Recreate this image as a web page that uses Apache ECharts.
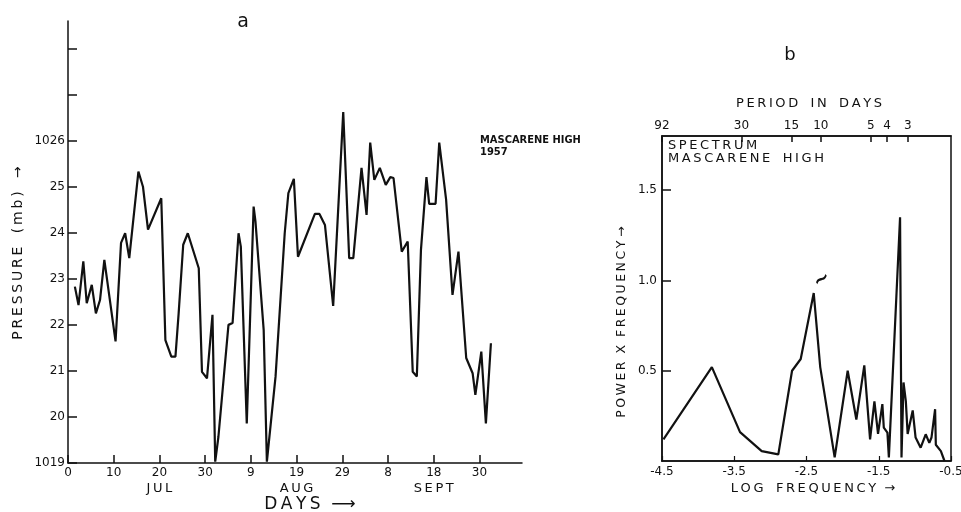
<!DOCTYPE html>
<html>
<head>
<meta charset="utf-8">
<script src="https://cdn.jsdelivr.net/npm/echarts@6/dist/echarts.min.js"></script>
<style>html,body{margin:0;padding:0;background:#fff}#c{width:961px;height:512px}</style>
</head>
<body>
<div id="c"></div>
<script>
// ---- Panel a: daily pressure, Mascarene High 1957 ----
var days = [1.5,2.3,3.35,4.1,5.2,6.1,7,7.95,10.4,11.6,12.5,13.4,15.4,16.4,17.5,20.4,21.3,22.6,23.5,24.2,25.2,26.2,28.6,29.3,30.4,31.6,32.2,32.9,35.1,36,37.3,37.8,39.1,40.6,41,42.8,43.5,45.4,47.4,48.2,49.4,50.3,54,55,56.2,58,60.2,61.5,62.4,64.2,65.3,66.1,67,68.2,69.5,70.5,71.2,73,74.3,75.4,76.3,77.2,78.4,79,80.4,81.2,82.7,84.1,85.4,87.1,88.5,89.1,90.4,91.4,92.5];
var pressure = [1022.83,1022.43,1023.38,1022.47,1022.87,1022.25,1022.54,1023.41,1021.64,1023.78,1023.99,1023.45,1025.33,1025.0,1024.07,1024.75,1021.67,1021.31,1021.31,1022.25,1023.74,1023.99,1023.23,1020.98,1020.84,1022.22,1019.03,1019.57,1022.0,1022.04,1023.99,1023.7,1019.86,1024.57,1024.25,1021.89,1019.03,1020.88,1023.99,1024.86,1025.17,1023.48,1024.41,1024.41,1024.17,1022.41,1026.62,1023.45,1023.45,1025.41,1024.39,1025.96,1025.15,1025.41,1025.04,1025.21,1025.19,1023.59,1023.81,1020.98,1020.88,1023.63,1025.21,1024.63,1024.63,1025.96,1024.72,1022.65,1023.59,1021.28,1020.95,1020.48,1021.42,1019.86,1021.6];
var dayTicks = [0,10,20,30,40,50,60,70,80,90];
var dayTickLabels = ['0','10','20','30','9','19','29','8','18','30'];
var monthLabels = ['','','JUL','','','AUG','','','SEPT',''];
var pressureTicks = [1019,1020,1021,1022,1023,1024,1025,1026,1027,1028];
var pressureTickLabels = ['1019','20','21','22','23','24','25','1026','',''];

// ---- Panel b: spectrum ----
var logFreq = [-4.48,-3.81,-3.42,-3.12,-2.89,-2.70,-2.58,-2.40,-2.31,-2.11,-1.93,-1.81,-1.70,-1.62,-1.56,-1.51,-1.45,-1.43,-1.38,-1.36,-1.205,-1.185,-1.157,-1.125,-1.10,-1.03,-0.99,-0.92,-0.85,-0.80,-0.77,-0.72,-0.71,-0.64,-0.59];
var powerFreq = [0.12,0.52,0.16,0.055,0.037,0.50,0.565,0.93,0.52,0.02,0.50,0.23,0.53,0.12,0.33,0.15,0.315,0.185,0.157,0.02,1.35,0.02,0.435,0.33,0.15,0.28,0.13,0.074,0.148,0.10,0.13,0.287,0.09,0.055,0.0];
var logFreqTicks = [-4.5,-3.5,-2.5,-1.5,-0.5];
var powerTicks = [0.5,1.0,1.5];
var periodDays = [92,30,15,10,5,4,3];

var FONT = 'DejaVu Sans';
var INK = '#111';
var LOGMIN = -4.5, LOGMAX = -0.5;
var periodPos = periodDays.map(function(p){ return Math.max(LOGMIN, -Math.log(p)); });

function pairs(xs, ys){ return xs.map(function(x,i){ return [x, ys[i]]; }); }
function spaced(s){ return s.split('').join('\u2009'); }

var chart = echarts.init(document.getElementById('c'), null, {renderer:'canvas'});
chart.setOption({
  backgroundColor:'#fff',
  animation:false,
  grid:[
    {left:68, top:21, width:454, height:442, outerBoundsMode:'none', containLabel:false},
    {left:662, top:136, width:289, height:325, outerBoundsMode:'none', containLabel:false,
      show:true, borderColor:INK, borderWidth:1.5, backgroundColor:'transparent'}
  ],
  xAxis:[
    {gridIndex:0, type:'value', min:0, max:99.3, position:'bottom',
      axisLine:{show:true, lineStyle:{color:INK, width:1.5}},
      axisTick:{show:true, inside:true, length:8, customValues:dayTicks, lineStyle:{color:INK, width:1.5}},
      axisLabel:{show:true, margin:2, customValues:dayTicks, color:INK, fontFamily:FONT, fontSize:12,
        formatter:function(v){
          var i = dayTicks.indexOf(Math.round(v));
          if (i < 0) return '';
          return '{d|' + dayTickLabels[i] + '}' + (monthLabels[i] ? '\n{m|' + spaced(monthLabels[i]) + '}' : '');
        },
        rich:{
          d:{fontFamily:FONT, fontSize:12, color:INK, lineHeight:16},
          m:{fontFamily:FONT, fontSize:13, color:INK, lineHeight:16}
        }},
      splitLine:{show:false}},
    {gridIndex:1, type:'value', min:LOGMIN, max:LOGMAX, position:'bottom',
      axisLine:{show:true, onZero:false, lineStyle:{color:INK, width:1.5}},
      axisTick:{show:true, inside:true, length:5, customValues:logFreqTicks, lineStyle:{color:INK, width:1.2}},
      axisLabel:{show:true, margin:5, customValues:logFreqTicks, color:INK, fontFamily:FONT, fontSize:12,
        formatter:function(v){ return v.toFixed(1); }},
      splitLine:{show:false}},
    {gridIndex:1, type:'value', min:LOGMIN, max:LOGMAX, position:'top',
      axisLine:{show:true, onZero:false, lineStyle:{color:INK, width:1.5}},
      axisTick:{show:true, inside:true, length:6, customValues:periodPos, lineStyle:{color:INK, width:1.5}},
      axisLabel:{show:true, margin:4, customValues:periodPos, color:INK, fontFamily:FONT, fontSize:12,
        formatter:function(v){
          for (var i=0;i<periodPos.length;i++){ if (Math.abs(periodPos[i]-v)<1e-6) return String(periodDays[i]); }
          return '';
        }},
      splitLine:{show:false}}
  ],
  yAxis:[
    {gridIndex:0, type:'value', min:1019, max:1028.6,
      axisLine:{show:true, lineStyle:{color:INK, width:1.5}},
      axisTick:{show:true, inside:true, length:9, customValues:pressureTicks, lineStyle:{color:INK, width:1.5}},
      axisLabel:{show:true, margin:3, customValues:pressureTicks, color:INK, fontFamily:FONT, fontSize:12,
        formatter:function(v){ var i = pressureTicks.indexOf(Math.round(v)); return i>=0 ? pressureTickLabels[i] : ''; }},
      splitLine:{show:false}},
    {gridIndex:1, type:'value', min:0, max:1.8,
      axisLine:{show:true, onZero:false, lineStyle:{color:INK, width:1.5}},
      axisTick:{show:true, inside:true, length:9, customValues:powerTicks, lineStyle:{color:INK, width:1.5}},
      axisLabel:{show:true, margin:5, customValues:powerTicks, color:INK, fontFamily:FONT, fontSize:12,
        formatter:function(v){ return v.toFixed(1); }},
      splitLine:{show:false}}
  ],
  series:[
    {type:'line', xAxisIndex:0, yAxisIndex:0, data:pairs(days, pressure), symbol:'none',
      lineStyle:{color:INK, width:2.2}, silent:true},
    {type:'line', xAxisIndex:1, yAxisIndex:1, data:pairs(logFreq, powerFreq), symbol:'none',
      lineStyle:{color:INK, width:2.2}, silent:true}
  ],
  graphic:[
    {type:'text', x:243, y:22, style:{text:'a', fill:INK, font:'19px '+FONT, textAlign:'center', textVerticalAlign:'middle'}},
    {type:'text', x:790, y:55, style:{text:'b', fill:INK, font:'18px '+FONT, textAlign:'center', textVerticalAlign:'middle'}},
    {type:'text', x:480, y:134, style:{text:'MASCARENE HIGH\n1957', fill:INK, font:'bold 11px "DejaVu Sans Condensed"', lineHeight:12, textAlign:'left', textVerticalAlign:'top'}},
    {type:'text', x:18, y:253, rotation:Math.PI/2, style:{text:spaced('PRESSURE') + '   ' + spaced('(mb)') + '   \u2192', fill:INK, font:'14px '+FONT, textAlign:'center', textVerticalAlign:'middle'}},
    {type:'text', x:310, y:505, style:{text:spaced('DAYS') + '  \u27F6', fill:INK, font:'17px '+FONT, textAlign:'center', textVerticalAlign:'middle'}},
    {type:'text', x:809, y:104, style:{text:spaced('PERIOD') + '   ' + spaced('IN') + '   ' + spaced('DAYS'), fill:INK, font:'13px '+FONT, textAlign:'center', textVerticalAlign:'middle'}},
    {type:'text', x:668, y:139, style:{text:spaced('SPECTRUM') + '\n' + spaced('MASCARENE') + '   ' + spaced('HIGH'), fill:INK, font:'13px '+FONT, lineHeight:13, textAlign:'left', textVerticalAlign:'top'}},
    {type:'text', x:622, y:322, rotation:Math.PI/2, style:{text:spaced('POWER') + '  X  ' + spaced('FREQUENCY') + ' \u2192', fill:INK, font:'12.5px '+FONT, textAlign:'center', textVerticalAlign:'middle'}},
    {type:'text', x:813, y:489, style:{text:spaced('LOG') + '   ' + spaced('FREQUENCY') + '  \u2192', fill:INK, font:'13px '+FONT, textAlign:'center', textVerticalAlign:'middle'}},
    {type:'text', x:822, y:280, rotation:0.6, style:{text:'\u223C', fill:INK, font:'bold 20px '+FONT, textAlign:'center', textVerticalAlign:'middle'}}
  ]
});
</script>
</body>
</html>
